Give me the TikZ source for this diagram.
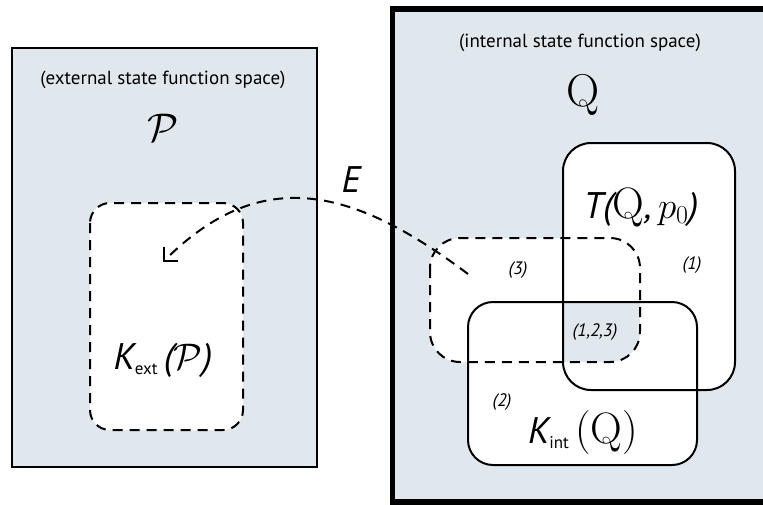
\RequirePackage{fix-cm}
\documentclass[tikz,border=0pt]{standalone}
\usepackage{fontspec}
\setsansfont{PT Sans}
\usetikzlibrary{arrows.meta}
\definecolor{spacebg}{RGB}{224,232,238}

\begin{document}
\begin{tikzpicture}[x=1pt,y=-1pt,
    region/.style={draw=black,line width=2pt},
    dashregion/.style={draw=black,line width=2pt,dash pattern=on 10pt off 7pt},
    spacelabel/.style={font=\sffamily\fontsize{19}{21}\selectfont},
    partlabel/.style={font=\sffamily\itshape\fontsize{18}{20}\selectfont},
    biglabel/.style={font=\fontsize{37}{40}\selectfont}]
    \clip (0,0) rectangle (763,504);
    % the two spaces
    \draw[fill=spacebg,line width=1.8pt] (12,48) rectangle (317,467);
    \draw[fill=spacebg,line width=5.5pt] (392.5,9) rectangle (790,502);
    % regions
    \draw[dashregion,fill=white,rounded corners=20pt] (90,203) rectangle (243,430);
    \fill[white,rounded corners=28pt] (563,143) rectangle (735,390);
    \fill[white,rounded corners=25pt] (468,302) rectangle (697,465);
    \fill[white,rounded corners=30pt] (430,238) rectangle (640,362);
    \begin{scope}
      \clip[rounded corners=28pt] (563,143) rectangle (735,390);
      \clip[rounded corners=25pt] (468,302) rectangle (697,465);
      \fill[spacebg,rounded corners=30pt] (430,238) rectangle (640,362);
    \end{scope}
    \draw[region,rounded corners=28pt] (563,143) rectangle (735,390);
    \draw[region,rounded corners=25pt] (468,302) rectangle (697,465);
    \draw[dashregion,rounded corners=30pt] (430,238) rectangle (640,362);
    % labels
    \node[spacelabel] (extname) at (163,80) {(external state function space)};
    \node[spacelabel] (intname) at (580,43) {(internal state function space)};
    \node[font=\fontsize{40}{44}\selectfont] (P) at (163,128) {$\mathcal{P}$};
    \node[font=\fontsize{46}{50}\selectfont] (Q) at (583,95) {Q};
    \node[biglabel] (Kext) at (163,360) {{\sffamily\itshape K}\raisebox{-5pt}{\sffamily\fontsize{17}{17}\selectfont ext}\,{\sffamily\itshape(}$\mathcal{P}${\sffamily\itshape)}};
    \node[biglabel] (T) at (641,207) {{\sffamily\itshape T(}{\fontsize{44}{48}\selectfont Q}{\sffamily\itshape,}\,$p_0${\sffamily\itshape)}};
    \node[biglabel] (Kint) at (583,433) {{\sffamily\itshape K}\raisebox{-5pt}{\sffamily\fontsize{17}{17}\selectfont int}\,{\fontsize{44}{48}\selectfont(Q)}};
    \node[font=\sffamily\itshape\fontsize{37}{40}\selectfont] (E) at (351,180) {E};
    \node[partlabel] (one) at (692,265) {(1)};
    \node[partlabel] (three) at (518,270) {(3)};
    \node[partlabel] (all) at (595,332) {(1,2,3)};
    \node[partlabel] (two) at (502,402) {(2)};
    % the map E
    \coordinate (Estart) at (468,274);
    \coordinate (Eend) at (163,262);
    \draw[dashregion,-{Straight Barb[length=10pt,width=20pt]}] (Estart) .. controls (356,190) and (263,162) .. (Eend);
\end{tikzpicture}
\end{document}
